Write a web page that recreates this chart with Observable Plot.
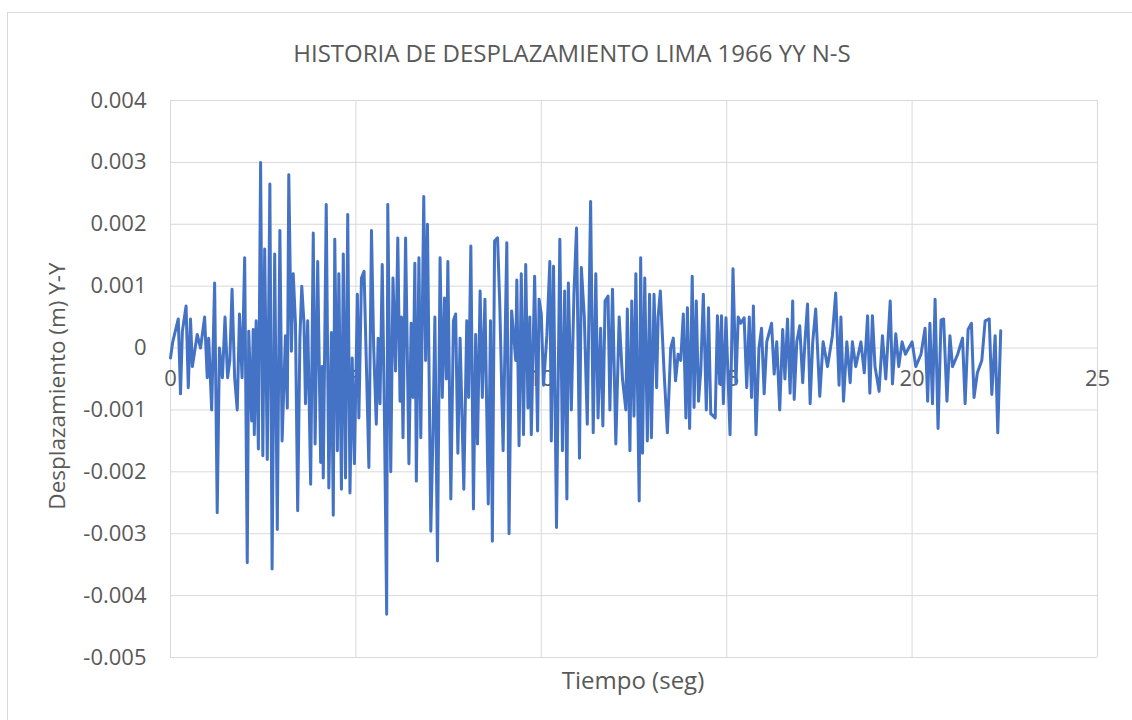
<!DOCTYPE html>
<html>
<head>
<meta charset="utf-8">
<script src="https://cdn.jsdelivr.net/npm/d3@7"></script>
<script src="https://cdn.jsdelivr.net/npm/@observablehq/plot@0.6"></script>
<style>
  html, body { margin: 0; padding: 0; background: #ffffff; }
  #wrap { position: relative; width: 1132px; height: 720px; overflow: hidden; font-family: "Open Sans", sans-serif; color: #595959; }
  #frame { position: absolute; left: 7px; top: 12px; width: 1150px; height: 740px; border: 1px solid #d9d9d9; box-sizing: border-box; }
  #chart { position: absolute; left: 0; top: 0; }
  #title { position: absolute; left: 0; width: 1144px; top: 53px; transform: translateY(-50%); line-height: 30px; text-align: center; font-size: 24px; white-space: nowrap; }
  #ylabel { position: absolute; left: 57px; top: 386px; transform: translate(-50%, -50%) rotate(-90deg); font-size: 22.5px; white-space: nowrap; line-height: 28px; }
  #xlabel { position: absolute; left: 633px; top: 680px; transform: translate(-50%, -50%); font-size: 24px; white-space: nowrap; line-height: 30px; }
</style>
</head>
<body>
<div id="wrap">
  <div id="frame"></div>
  <div id="chart"></div>
  <div id="title">HISTORIA DE DESPLAZAMIENTO LIMA 1966 YY N-S</div>
  <div id="ylabel">Desplazamiento (m) Y-Y</div>
  <div id="xlabel">Tiempo (seg)</div>
</div>
<script>
// Time (s)
const time = [
  0.00,0.06,0.21,0.27,0.32,0.42,0.48,0.54,0.59,0.72,0.81,0.92,0.99,1.03,1.11,1.19,1.26,1.32,1.40,1.47,
  1.54,1.60,1.66,1.73,1.80,1.86,1.93,2.00,2.07,2.11,2.19,2.23,2.26,2.31,2.37,2.43,2.49,2.54,2.61,2.68,
  2.74,2.81,2.88,2.95,3.01,3.10,3.15,3.19,3.26,3.31,3.37,3.43,3.49,3.54,3.60,3.64,3.70,3.78,3.85,3.90,
  3.97,4.05,4.09,4.12,4.20,4.27,4.34,4.39,4.43,4.50,4.54,4.61,4.66,4.72,4.78,4.84,4.90,4.96,5.04,5.08,
  5.15,5.22,5.28,5.35,5.42,5.48,5.55,5.60,5.65,5.71,5.77,5.83,5.86,5.94,6.00,6.07,6.13,6.19,6.23,6.27,
  6.34,6.43,6.49,6.54,6.59,6.63,6.70,6.75,6.83,6.88,6.93,7.02,7.08,7.13,7.20,7.27,7.33,7.39,7.44,7.48,
  7.56,7.63,7.69,7.75,7.81,7.91,7.99,8.04,8.10,8.17,8.23,8.28,8.35,8.41,8.48,8.57,8.63,8.68,8.74,8.82,
  8.88,8.97,9.07,9.13,9.20,9.31,9.34,9.40,9.46,9.52,9.58,9.64,9.69,9.73,9.82,9.90,9.94,10.00,10.06,10.15,
  10.23,10.27,10.33,10.41,10.50,10.57,10.63,10.69,10.73,10.81,10.88,10.95,11.03,11.08,11.16,11.24,11.33,11.40,11.47,11.53,
  11.60,11.66,11.72,11.80,11.85,11.92,12.01,12.10,12.19,12.28,12.32,12.39,12.44,12.50,12.55,12.64,12.68,12.73,12.79,12.86,
  12.92,12.97,13.04,13.11,13.15,13.21,13.31,13.40,13.49,13.56,13.62,13.69,13.76,13.83,13.90,13.94,14.00,14.07,14.12,14.18,
  14.24,14.30,14.37,14.45,14.51,14.57,14.69,14.75,14.81,14.86,14.91,14.98,15.09,15.17,15.25,15.31,15.38,15.47,15.54,15.61,
  15.67,15.72,15.79,15.87,15.94,16.01,16.08,16.21,16.28,16.35,16.43,16.51,16.57,16.64,16.71,16.78,16.82,16.89,16.97,17.05,
  17.11,17.18,17.25,17.32,17.40,17.51,17.60,17.72,17.85,17.94,18.03,18.08,18.15,18.24,18.33,18.39,18.48,18.62,18.71,18.80,
  18.86,18.93,19.00,19.11,19.20,19.29,19.41,19.47,19.56,19.64,19.73,19.82,19.91,20.00,20.10,20.24,20.35,20.42,20.48,20.55,
  20.62,20.70,20.78,20.85,20.94,21.02,21.09,21.23,21.36,21.43,21.51,21.60,21.67,21.76,21.88,21.97,22.08,22.15,22.24,22.31,
  22.39
];
// Displacement (m)
const disp = [
  -0.00016,0.00010,0.00047,-0.00074,0.00027,0.00068,-0.00064,0.00047,-0.00030,0.00022,0.00000,0.00050,-0.00048,0.00016,-0.00100,0.00105,-0.00266,0.00000,-0.00048,0.00050,
  -0.00048,-0.00020,0.00095,-0.00048,-0.00100,0.00055,-0.00048,0.00146,-0.00347,0.00027,-0.00118,0.00030,-0.00140,0.00044,-0.00163,0.00300,-0.00174,0.00160,-0.00180,0.00265,
  -0.00357,0.00152,-0.00293,0.00190,-0.00150,0.00020,-0.00097,0.00280,-0.00005,0.00120,0.00040,-0.00263,0.00016,0.00100,0.00040,-0.00090,0.00044,-0.00220,0.00186,-0.00155,
  0.00140,-0.00185,-0.00030,-0.00210,0.00232,-0.00226,0.00025,-0.00270,0.00176,-0.00166,0.00120,-0.00228,0.00152,-0.00210,0.00216,-0.00234,-0.00016,-0.00187,0.00087,-0.00113,
  0.00113,0.00124,-0.00020,-0.00193,0.00190,0.00000,-0.00123,0.00016,-0.00090,0.00135,-0.00113,-0.00430,0.00232,-0.00200,0.00113,-0.00037,0.00178,-0.00086,0.00050,-0.00145,
  0.00178,-0.00187,0.00040,-0.00080,0.00137,-0.00215,0.00146,-0.00145,0.00245,-0.00020,0.00200,-0.00296,-0.00134,0.00050,-0.00344,0.00146,-0.00080,0.00081,-0.00050,0.00140,
  -0.00244,0.00044,0.00055,-0.00170,0.00016,-0.00228,0.00044,-0.00080,0.00165,-0.00260,0.00022,-0.00155,0.00092,-0.00080,0.00079,-0.00252,0.00044,-0.00312,0.00173,0.00178,
  0.00071,-0.00166,0.00170,-0.00300,0.00060,-0.00020,0.00110,-0.00158,0.00120,-0.00140,0.00135,-0.00097,0.00050,-0.00140,0.00116,-0.00134,0.00079,0.00055,-0.00060,0.00020,
  0.00140,-0.00150,0.00132,-0.00290,0.00176,-0.00166,0.00092,-0.00244,0.00105,-0.00100,0.00087,0.00194,-0.00178,0.00130,0.00050,-0.00123,0.00237,-0.00137,0.00120,-0.00113,
  0.00032,-0.00126,0.00076,0.00084,-0.00100,0.00095,-0.00155,0.00050,-0.00050,-0.00100,0.00063,-0.00166,0.00076,-0.00110,0.00120,-0.00247,0.00146,-0.00170,0.00113,-0.00150,
  0.00087,-0.00145,0.00087,-0.00064,0.00050,0.00092,-0.00037,-0.00137,0.00000,0.00016,-0.00053,-0.00010,-0.00020,0.00055,-0.00113,0.00065,-0.00130,0.00116,-0.00096,0.00076,
  -0.00086,-0.00037,0.00087,-0.00100,0.00065,-0.00106,-0.00113,0.00052,-0.00058,0.00052,-0.00090,0.00049,-0.00140,0.00128,-0.00058,0.00050,0.00040,0.00049,-0.00064,0.00050,
  -0.00080,0.00068,-0.00140,0.00000,0.00032,-0.00074,0.00010,0.00040,-0.00042,0.00010,-0.00100,0.00030,-0.00050,0.00047,-0.00073,0.00076,-0.00083,0.00010,0.00036,-0.00056,
  0.00010,0.00071,-0.00090,0.00010,0.00063,-0.00078,0.00010,-0.00030,0.00020,0.00089,-0.00060,0.00050,-0.00086,0.00010,-0.00056,0.00010,-0.00030,0.00010,-0.00040,0.00052,
  -0.00073,0.00052,-0.00030,-0.00070,0.00020,-0.00050,0.00076,-0.00058,0.00023,-0.00030,0.00010,-0.00010,0.00000,0.00010,-0.00030,-0.00010,0.00032,-0.00086,0.00040,-0.00090,
  0.00079,-0.00130,0.00045,0.00047,-0.00086,0.00020,-0.00030,-0.00010,0.00016,-0.00090,0.00030,0.00040,-0.00080,-0.00040,-0.00020,0.00044,0.00047,-0.00075,0.00020,-0.00137,
  0.00028
];
const xTicks = [0, 5, 10, 15, 20, 25];
const yTicks = [0.004, 0.003, 0.002, 0.001, 0, -0.001, -0.002, -0.003, -0.004, -0.005];

const points = time.map((t, i) => ({t, d: disp[i]}));
const fmtY = d => d === 0 ? "0" : d.toFixed(3);

const chart = Plot.plot({
  width: 1132,
  height: 720,
  marginLeft: 170,
  marginRight: 35,
  marginTop: 100,
  marginBottom: 63,
  style: {fontFamily: "'Open Sans', sans-serif", color: "#595959", background: "transparent"},
  x: {domain: [0, 25], axis: null},
  y: {domain: [-0.005, 0.004], axis: null},
  marks: [
    Plot.gridX(xTicks, {stroke: "#d9d9d9", strokeOpacity: 1, strokeWidth: 1}),
    Plot.gridY(yTicks, {stroke: "#d9d9d9", strokeOpacity: 1, strokeWidth: 1}),
    Plot.axisY(yTicks, {tickSize: 0, tickPadding: 24, tickFormat: fmtY, fontSize: 22, fill: "#595959", label: null}),
    Plot.text(xTicks, {x: d => d, y: 0, dy: 31, text: d => String(d), fontSize: 22, fill: "#595959"}),
    Plot.line(points, {x: "t", y: "d", stroke: "#4472C4", strokeWidth: 3, strokeLinejoin: "round"})
  ]
});
document.getElementById("chart").appendChild(chart);
</script>
</body>
</html>
